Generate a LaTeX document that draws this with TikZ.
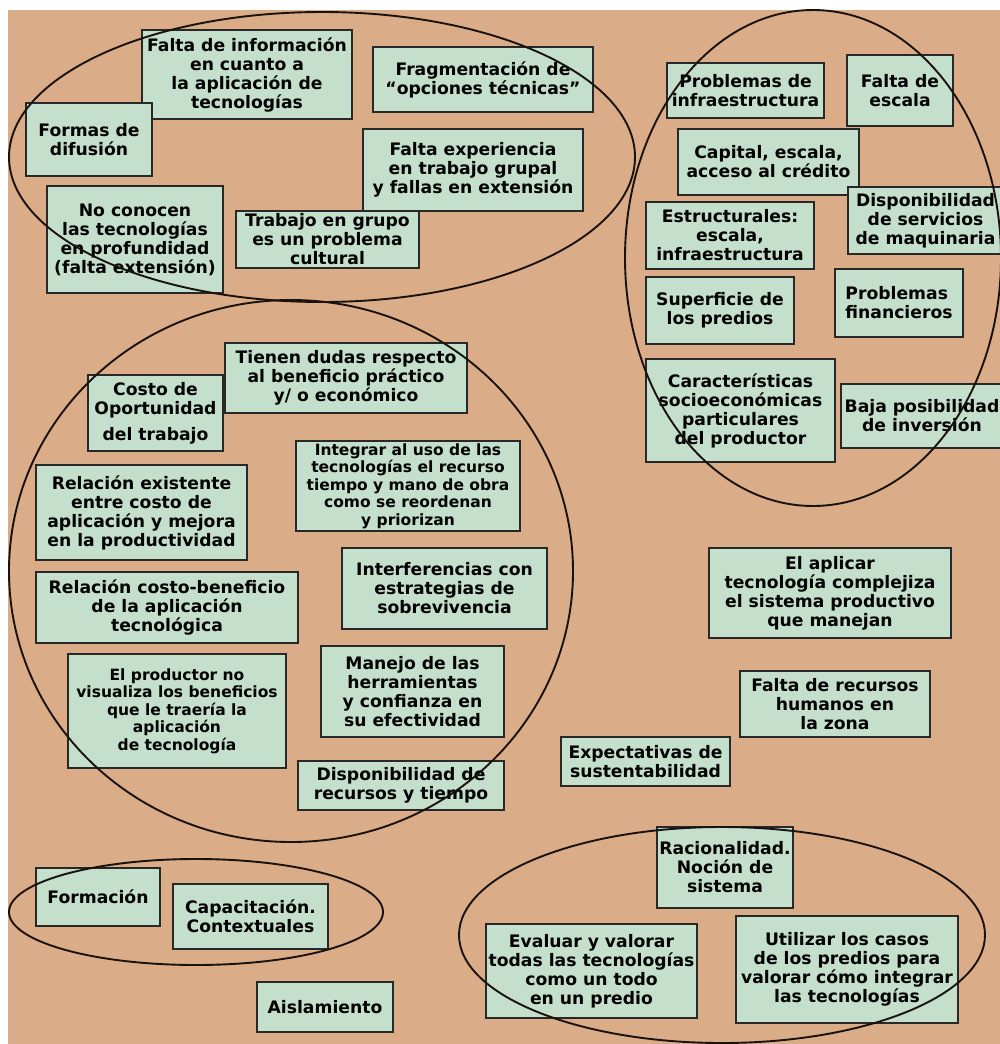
\documentclass[tikz,border=0pt]{standalone}
\usepackage{fontspec}
\setmainfont{DejaVu Sans}
\definecolor{bgtan}{RGB}{218,172,136}
\definecolor{boxgreen}{RGB}{196,223,203}
\definecolor{boxline}{RGB}{40,40,40}
\definecolor{ringline}{RGB}{25,18,15}
\tikzset{
  box/.style={draw=boxline, line width=1.4pt, fill=boxgreen, rectangle, inner sep=0pt,
    align=center, text=black, font=\bfseries\fontsize{17.2}{19}\selectfont},
  smallbox/.style={box, font=\bfseries\fontsize{15.5}{17.5}\selectfont},
  ring/.style={draw=ringline, line width=1.9pt}
}
\begin{document}
\begin{tikzpicture}[x=1pt,y=-1pt]
\useasboundingbox (0,0) rectangle (999,1044);
\fill[white] (0,0) rectangle (999,1044);
\fill[bgtan] (8,10) rectangle (1005,1050);

% top cluster
\node[box, minimum width=210, minimum height=89] (fi) at (247,74.5) {Falta de información\\en cuanto a\\la aplicación de\\tecnologías};
\node[box, minimum width=126, minimum height=73] (fd) at (89,139.5) {Formas de\\difusión};
\node[box, minimum width=176, minimum height=107] (nc) at (135,239.5) {No conocen\\las tecnologías\\en profundidad\\(falta extensión)};
\node[box, minimum width=183, minimum height=57] (tg) at (327.5,239.5) {Trabajo en grupo\\es un problema\\cultural};
\node[box, minimum width=220, minimum height=65] (fr) at (483,79.5) {Fragmentación de\\“opciones técnicas\char"0022};
\node[box, minimum width=220, minimum height=82] (fe) at (473,170) {Falta experiencia\\en trabajo grupal\\y fallas en extensión};

% right cluster
\node[box, minimum width=157, minimum height=55] (pi) at (745.5,90.5) {Problemas de\\infraestructura};
\node[box, minimum width=106, minimum height=71] (fs) at (900,90.5) {Falta de\\escala};
\node[box, minimum width=181, minimum height=66] (ca) at (768.5,162) {Capital, escala,\\acceso al crédito};
\node[box, minimum width=168, minimum height=67] (es) at (730,235.5) {Estructurales:\\escala,\\infraestructura};
\node[box, minimum width=155, minimum height=67] (dm) at (925.5,220.5) {Disponibilidad\\de servicios\\de maquinaria};
\node[box, minimum width=148, minimum height=67] (sp) at (720,310.5) {Superficie de\\los predios};
\node[box, minimum width=128, minimum height=68, align=left] (pf) at (899,303) {Problemas\\financieros};
\node[box, minimum width=189, minimum height=103] (cs) at (740.5,410.5) {Características\\socioeconómicas\\particulares\\del productor};
\node[box, minimum width=162, minimum height=64] (bp) at (922,416) {Baja posibilidad\\de inversión};

% middle cluster
\node[box, minimum width=135, minimum height=76] (co) at (155.5,413) {Costo de\\Oportunidad\\[7pt]del trabajo};
\node[box, minimum width=242, minimum height=70] (td) at (346,378) {Tienen dudas respecto\\al beneficio práctico\\y/ o económico};
\node[box, minimum width=211, minimum height=95] (re) at (141.5,512.5) {Relación existente\\entre costo de\\aplicación y mejora\\en la productividad};
\node[box, minimum width=262, minimum height=71] (rc) at (167,607.5) {Relación costo-beneficio\\de la aplicación\\tecnológica};
\node[smallbox, minimum width=218, minimum height=114] (ep) at (177,711) {El productor no\\visualiza los beneficios\\que le traería la\\aplicación\\de tecnología};
\node[smallbox, minimum width=224, minimum height=90] (iu) at (408,486) {Integrar al uso de las\\tecnologías el recurso\\tiempo y mano de obra\\como se reordenan\\y priorizan};
\node[box, minimum width=205, minimum height=81] (it) at (444.5,588.5) {Interferencias con\\estrategias de\\sobrevivencia};
\node[box, minimum width=183, minimum height=91] (mh) at (412.5,691.5) {Manejo de las\\herramientas\\y confianza en\\su efectividad};
\node[box, minimum width=206, minimum height=49] (dr) at (401,785.5) {Disponibilidad de\\recursos y tiempo};

% loose boxes
\node[box, minimum width=242, minimum height=90] (ea) at (830,593) {El aplicar\\tecnología complejiza\\el sistema productivo\\que manejan};
\node[box, minimum width=190, minimum height=66] (fh) at (835,704) {Falta de recursos\\humanos en\\la zona};
\node[box, minimum width=169, minimum height=49] (ex) at (645.5,761.5) {Expectativas de\\sustentabilidad};

% bottom
\node[box, minimum width=124, minimum height=58] (fo) at (98,897) {Formación};
\node[box, minimum width=155, minimum height=65] (cc) at (250.5,916.5) {Capacitación.\\Contextuales};
\node[box, minimum width=136, minimum height=50] (ai) at (325,1007) {Aislamiento};
\node[box, minimum width=136, minimum height=81] (rn) at (725,867.5) {Racionalidad.\\Noción de\\sistema};
\node[box, minimum width=211, minimum height=94] (ev) at (591.5,971) {Evaluar y valorar\\todas las tecnologías\\como un todo\\en un predio};
\node[box, minimum width=222, minimum height=107] (ut) at (847,969.5) {Utilizar los casos\\de los predios para\\valorar cómo integrar\\las tecnologías};

% rings
\draw[ring] (322,157) ellipse [x radius=313, y radius=145];
\draw[ring] (813,258) ellipse [x radius=188, y radius=248];
\draw[ring] (291,571) ellipse [x radius=282, y radius=271];
\draw[ring] (196,912) ellipse [x radius=187, y radius=53];
\draw[ring] (722,935) ellipse [x radius=263, y radius=108];
\end{tikzpicture}
\end{document}
